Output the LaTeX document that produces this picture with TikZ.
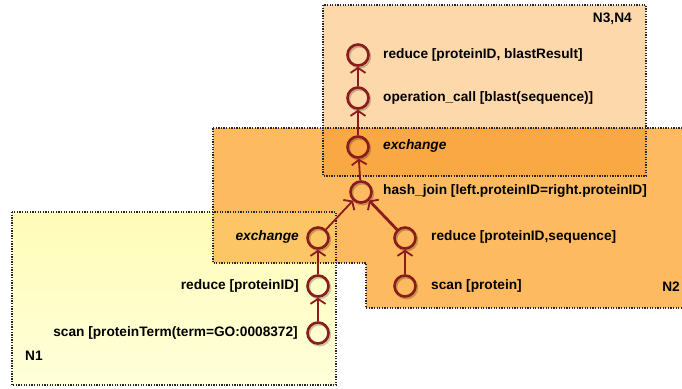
\documentclass[tikz,border=0pt]{standalone}
\usepackage{fontspec}
\setmainfont{Liberation Sans}
\usetikzlibrary{arrows.meta}
\definecolor{opred}{HTML}{8C1C1C}
\definecolor{peach}{HTML}{FDD8AA}
\definecolor{orng}{HTML}{FDBA60}
\definecolor{orngdark}{HTML}{F9A844}
\definecolor{ylw}{HTML}{FFFCB8}
\definecolor{ylwlight}{HTML}{FFFFDA}
\definecolor{ylworng}{HTML}{FCC666}
\begin{document}
\begin{tikzpicture}[x=1pt,y=-1pt,
  region/.style={draw=black!85, line width=1.4pt, dash pattern=on 1.3pt off 1.3pt},
  op/.style={circle, draw=opred, line width=2.6pt, minimum size=21pt, inner sep=0pt,
    preaction={draw=black, opacity=0.22, line width=2.8pt, transform canvas={xshift=1.3pt,yshift=-1.6pt}}},
  flow/.style={draw=opred, line width=1.8pt, -{Straight Barb[length=5pt,width=15pt,line width=1.8pt]}},
  lbl/.style={inner sep=0pt, font=\fontsize{13.7}{15}\selectfont\bfseries},
  ilbl/.style={lbl, font=\fontsize{13.7}{15}\selectfont\bfseries\itshape}]
\useasboundingbox (0,0) rectangle (682,388);
% region fills
\shade[top color=ylw, bottom color=ylwlight] (12,212) rectangle (336,385);
\fill[peach] (323,5) rectangle (646,176);
\fill[orng] (213,128) -- (682,128) -- (682,308) -- (366,308) -- (366,263) -- (213,263) -- cycle;
\fill[orngdark] (323,128) rectangle (646,176);
\fill[ylworng] (213,212) rectangle (336,263);
% region borders
\draw[region] (12,212) rectangle (336,385);
\draw[region] (323,5) rectangle (646,176);
\draw[region] (213,128) -- (682,128) (682,308) -- (366,308) -- (366,263) -- (213,263) -- (213,128);
% region labels
\node[lbl, anchor=east] (n34) at (632,19) {N3,N4};
\node[lbl, anchor=east] (n2) at (680,287) {N2};
\node[lbl, anchor=west] (n1) at (25,356) {N1};
% operators
\node[op] (r1) at (358,55) {};
\node[op] (oc) at (358,98) {};
\node[op] (ex1) at (358,147) {};
\node[op] (hj) at (361,192) {};
\node[op] (ex2) at (318,238) {};
\node[op] (rs) at (405,238) {};
\node[op] (rp) at (318,286) {};
\node[op] (sp) at (405,286) {};
\node[op] (st) at (318,333) {};
% labels
\node[lbl, anchor=west] (r1l) at (383,55) {reduce [proteinID, blastResult]};
\node[lbl, anchor=west] (ocl) at (383,98) {operation\_call [blast(sequence)]};
\node[ilbl, anchor=west] (ex1l) at (383,146) {exchange};
\node[lbl, anchor=west] (hjl) at (383,191) {hash\_join [left.proteinID=right.proteinID]};
\node[ilbl, anchor=east] (ex2l) at (299,237) {exchange};
\node[lbl, anchor=west] (rsl) at (431,237) {reduce [proteinID,sequence]};
\node[lbl, anchor=east] (rpl) at (299,286) {reduce [proteinID]};
\node[lbl, anchor=west] (spl) at (431,286) {scan [protein]};
\node[lbl, anchor=east] (stl) at (298,333) {scan [proteinTerm(term=GO:0008372]};
% connectors
\draw[flow] (oc) -- (r1);
\draw[flow] (ex1) -- (oc);
\draw[flow] (hj) -- (ex1);
\draw[flow] (ex2) -- (hj);
\draw[flow, line width=2.8pt] (rs) -- (hj);
\draw[flow] (rp) -- (ex2);
\draw[flow] (st) -- (rp);
\draw[flow] (sp) -- (rs);
\end{tikzpicture}
\end{document}
